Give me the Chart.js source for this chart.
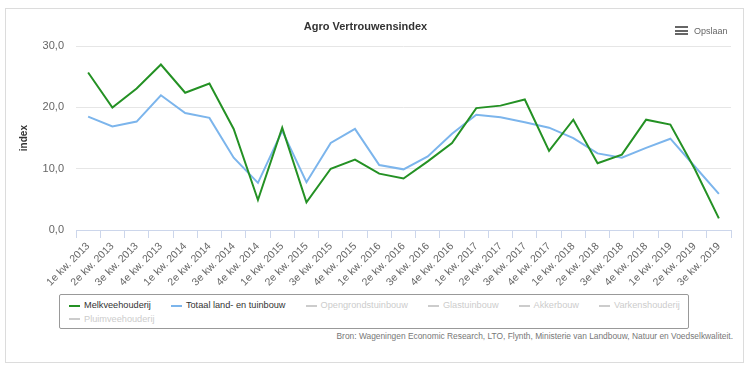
<!DOCTYPE html>
<html lang="nl">
<head>
<meta charset="UTF-8" />
<title>Agro Vertrouwensindex</title>
<script src="https://cdn.jsdelivr.net/npm/chart.js"></script>
<style>
  body { margin: 0; background: #fff; font-family: "Liberation Sans", Arial, sans-serif; }
  .frame { position: absolute; left: 5px; top: 8px; width: 737px; height: 353px; border: 1px solid #dcdcdc; }
  .chart-box { position: absolute; left: 0; top: 0; width: 750px; height: 290px; }
  .menu { position: absolute; left: 675px; top: 26px; width: 13px; }
  .menu span { display: block; height: 2px; background: #666; margin-bottom: 1.5px; }
  .menu-text { position: absolute; left: 694px; top: 26px; font-size: 9px; color: #666; }
  .legend-box { position: absolute; left: 59px; top: 294px; width: 628px; height: 33px; border: 1px solid #999; border-radius: 2px; }
  .legend { position: absolute; left: 9px; top: 4px; width: 640px; display: flex; flex-wrap: wrap;
            font-size: 9.2px; line-height: 13.5px; }
  .legend .item { display: flex; align-items: center; margin-right: 20px; color: #333; }
  .legend .item.off { color: #ccc; }
  .legend .sym { display: inline-block; width: 11px; height: 2px; margin-right: 4px; }
  .credits { position: absolute; right: 17px; top: 331px; font-size: 8.4px; color: #777; }
</style>
</head>
<body>
<div class="frame"></div>
<div class="chart-box"><canvas id="chart" width="750" height="290"></canvas></div>
<div class="menu"><span></span><span></span><span></span></div>
<div class="menu-text">Opslaan</div>
<div class="legend-box"><div class="legend" id="legend"></div></div>
<div class="credits">Bron: Wageningen Economic Research, LTO, Flynth, Ministerie van Landbouw, Natuur en Voedselkwaliteit.</div>

<script>
// categories (quarters)
const quarters = [
  "1e kw. 2013", "2e kw. 2013", "3e kw. 2013", "4e kw. 2013",
  "1e kw. 2014", "2e kw. 2014", "3e kw. 2014", "4e kw. 2014",
  "1e kw. 2015", "2e kw. 2015", "3e kw. 2015", "4e kw. 2015",
  "1e kw. 2016", "2e kw. 2016", "3e kw. 2016", "4e kw. 2016",
  "1e kw. 2017", "2e kw. 2017", "3e kw. 2017", "4e kw. 2017",
  "1e kw. 2018", "2e kw. 2018", "3e kw. 2018", "4e kw. 2018",
  "1e kw. 2019", "2e kw. 2019", "3e kw. 2019"
];

// series values
const melkveehouderij = [25.7, 20.0, 23.1, 27.0, 22.4, 23.9, 16.5, 4.9, 16.7, 4.5, 10.0, 11.5, 9.2, 8.4,
  11.2, 14.2, 19.9, 20.3, 21.3, 12.9, 18.0, 10.9, 12.3, 18.0, 17.2, 10.0, 1.9];
const totaalLandTuinbouw = [18.5, 16.9, 17.7, 22.0, 19.1, 18.3, 11.8, 7.7, 16.2, 7.8, 14.2, 16.5, 10.6, 9.9,
  12.0, 15.7, 18.8, 18.4, 17.6, 16.7, 15.0, 12.5, 11.8, 13.4, 14.9, 10.4, 5.9];

// y axis ticks
const yTicks = [0, 10, 20, 30];

// legend entries (only the first two are shown in the chart)
const seriesNames = ["Melkveehouderij", "Totaal land- en tuinbouw", "Opengrondstuinbouw", "Glastuinbouw",
  "Akkerbouw", "Varkenshouderij", "Pluimveehouderij"];
const seriesVisible = [true, true, false, false, false, false, false];

const GREEN = "#249124";
const BLUE = "#7cb5ec";
const seriesColors = [GREEN, BLUE];

const font = "'Liberation Sans', Arial, sans-serif";

new Chart(document.getElementById("chart"), {
  type: "line",
  data: {
    labels: quarters,
    datasets: [
      { label: seriesNames[0], data: melkveehouderij, borderColor: GREEN, backgroundColor: GREEN,
        borderWidth: 2, pointRadius: 0, tension: 0, fill: false },
      { label: seriesNames[1], data: totaalLandTuinbouw, borderColor: BLUE, backgroundColor: BLUE,
        borderWidth: 2, pointRadius: 0, tension: 0, fill: false }
    ]
  },
  options: {
    responsive: false,
    animation: false,
    layout: { padding: { left: 0, right: 19, top: 0, bottom: 0 } },
    plugins: {
      legend: { display: false },
      tooltip: { enabled: false },
      title: {
        display: true,
        text: "Agro Vertrouwensindex",
        color: "#333",
        font: { family: font, size: 11, weight: "bold" },
        padding: { top: 20, bottom: 13 }
      }
    },
    scales: {
      y: {
        min: 0, max: 30,
        afterBuildTicks: s => { s.ticks = yTicks.map(v => ({ value: v })); },
        afterFit: s => { s.width = 76; },
        ticks: {
          color: "#666",
          padding: 12,
          font: { family: font, size: 11 },
          callback: v => v.toFixed(1).replace(".", ",")
        },
        grid: { color: "#e6e6e6", drawTicks: false },
        border: { display: false },
        title: {
          display: true, text: "index", color: "#333",
          font: { family: font, size: 10, weight: "bold" },
          padding: { top: 18, bottom: 0 }
        }
      },
      x: {
        offset: true,
        afterFit: s => { s.height = 60; },
        ticks: {
          color: "#666",
          autoSkip: false,
          minRotation: 45, maxRotation: 45,
          padding: 2,
          font: { family: font, size: 10.5 }
        },
        grid: { offset: true, drawOnChartArea: false, color: "#ccd6eb", tickLength: 8 },
        border: { color: "#ccd6eb" }
      }
    }
  }
});

// legend, as in the original page
const legend = document.getElementById("legend");
seriesNames.forEach((name, i) => {
  const item = document.createElement("div");
  item.className = "item" + (seriesVisible[i] ? "" : " off");
  const sym = document.createElement("span");
  sym.className = "sym";
  sym.style.background = seriesVisible[i] ? seriesColors[i] : "#ccc";
  item.appendChild(sym);
  item.appendChild(document.createTextNode(name));
  legend.appendChild(item);
});
</script>
</body>
</html>
